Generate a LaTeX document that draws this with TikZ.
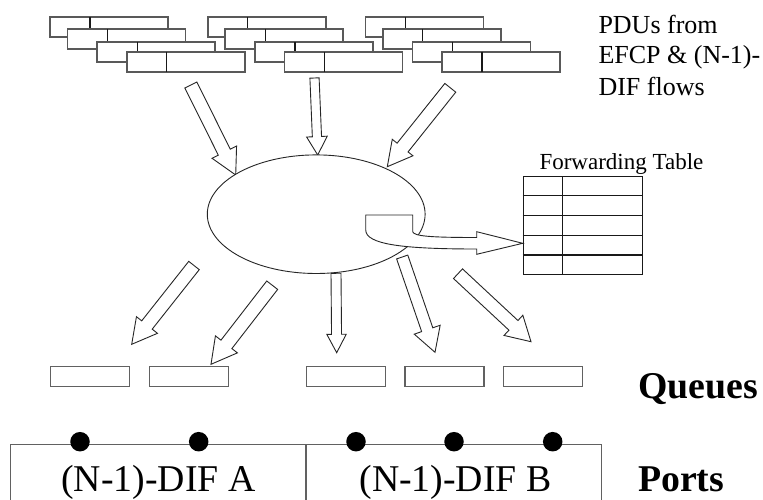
\documentclass[tikz,border=0pt]{standalone}
\usepackage{fontspec}
\setmainfont{Liberation Serif}
\usetikzlibrary{calc,shapes.geometric}

\tikzset{
  pdubox/.style={draw=black!65, line width=1.6pt, fill=white},
  pdusep/.style={draw=black!90, line width=1.3pt},
  blk/.style={draw=black!85, line width=0.9pt, fill=white, line join=miter},
  queue/.style={draw=black!62, line width=1.4pt, fill=white, minimum width=79pt,
    minimum height=20pt, inner sep=0pt, anchor=north west},
  tblline/.style={draw=black!90, line width=1.1pt},
  portbox/.style={draw=black!62, line width=1.4pt},
  port/.style={circle, fill=black, inner sep=0pt, minimum size=19.5pt},
  lbl/.style={inner sep=0pt, anchor=base west},
}

% one PDU: header field + body field
\newcommand\pdu[2]{%
  \draw[pdubox] (#1,#2) rectangle ++(118,20);
  \draw[pdusep] (#1+40,#2) -- ++(0,20);}
% a stack of four overlapping PDUs
\newcommand\pdustack[1]{%
  \pdu{#1}{17.3}\pdu{#1+17.5}{29}\pdu{#1+47.2}{42}\pdu{#1+76.7}{52}}
% hollow block arrow: tail, tip, half shaft width, half head width, head length
\newcommand\blockarrow[5]{%
  \coordinate (ba-neck) at ($(#2)!#5!(#1)$);
  \draw[blk] ($(#1)!#3!90:(#2)$) -- ($(ba-neck)!#3!90:(#2)$)
    -- ($(ba-neck)!#4!90:(#2)$) -- (#2) -- ($(ba-neck)!#4!-90:(#2)$)
    -- ($(ba-neck)!#3!-90:(#2)$) -- ($(#1)!#3!-90:(#2)$) -- cycle;}

\begin{document}
\begin{tikzpicture}[x=1pt, y=-1pt]
\useasboundingbox (0,0) rectangle (763,500);
\fill[white] (0,0) rectangle (763,500);
\clip (0,0) rectangle (763,500);

% incoming PDUs
\pdustack{50}
\pdustack{207.7}
\pdustack{365.3}

% arrow end points
\coordinate (t1) at (190.8,85);   \coordinate (h1) at (235.7,175);
\coordinate (t2) at (314.5,78);   \coordinate (h2) at (317.7,155);
\coordinate (t3) at (450.3,87.8); \coordinate (h3) at (387.3,166.7);
\coordinate (t4) at (194,265.5);  \coordinate (h4) at (131.7,344.3);
\coordinate (t5) at (272.2,285.2);\coordinate (h5) at (211,364.3);
\coordinate (t6) at (336,273.3);  \coordinate (h6) at (336.7,352.7);
\coordinate (t7) at (402.2,257);  \coordinate (h7) at (435,352.3);
\coordinate (t8) at (458,273.7);  \coordinate (h8) at (531,341.7);

% arrows into the relaying function
\blockarrow{t1}{h1}{6.7pt}{13.7pt}{25.5pt}
\blockarrow{t2}{h2}{4.6pt}{10.3pt}{18.4pt}
\blockarrow{t3}{h3}{7pt}{13.2pt}{24.5pt}

% relaying function
\node[draw=black!85, line width=0.9pt, ellipse, fill=white,
      minimum width=217.8pt, minimum height=118.6pt, inner sep=0pt]
      (relay) at (316.2,214.2) {};

% forwarding table
\node[tblline, minimum width=119pt, minimum height=98pt, inner sep=0pt,
      anchor=north west] (fwdtable) at (522.7,176) {};
\draw[tblline] ($(fwdtable.north west)+(39.6,0)$) -- ++(0,98);
\foreach \r in {19.8,39.6,59.3,79}
  \draw[tblline] ($(fwdtable.north west)+(0,\r)$) -- ++(119,0);
\coordinate (fwdtip) at ($(fwdtable.north west)+(0,67.3)$);

% lookup arrow from the relay into the table
\draw[blk] (365.7,215) -- (412.7,215) -- (412.7,231.7)
  .. controls (414,236) and (428,237.5) .. (476.7,237.5)
  -- (476.7,231.7) -- (fwdtip) -- (476.7,254.3) -- (476.7,249)
  .. controls (400,249) and (366,244) .. (365.7,230) -- cycle;

% arrows out to the queues
\blockarrow{t4}{h4}{6.7pt}{13.4pt}{24.6pt}
\blockarrow{t5}{h5}{6.9pt}{13.9pt}{25.2pt}
\blockarrow{t6}{h6}{5pt}{9.7pt}{18.4pt}
\blockarrow{t7}{h7}{5.9pt}{13.7pt}{23.9pt}
\blockarrow{t8}{h8}{6.6pt}{13.8pt}{24pt}

% output queues
\node[queue] (q1) at (50,366) {};
\node[queue] (q2) at (149,366) {};
\node[queue] (q3) at (306,366) {};
\node[queue] (q4) at (404.3,366) {};
\node[queue] (q5) at (502.7,366) {};

% ports onto the (N-1)-DIFs
\draw[portbox] (10.7,503) -- (10.7,444.5) -- (601.7,444.5) -- (601.7,503);
\draw[portbox] (306,444.5) -- (306,503);
\foreach \px/\nm in {80/p1,198.7/p2,356/p3,454/p4,552.7/p5}
  \node[port] (\nm) at (\px,441.7) {};

% labels
\node[lbl, font=\fontsize{26}{31}\selectfont] (pdutxt1) at (598.3,33.3) {PDUs from};
\node[lbl, font=\fontsize{26}{31}\selectfont] (pdutxt2) at (598.3,63.8) {EFCP \& (N-1)-};
\node[lbl, font=\fontsize{26}{31}\selectfont] (pdutxt3) at (598.3,95.5) {DIF flows};
\node[lbl, font=\fontsize{23}{28}\selectfont] (fwdtxt) at (539.3,169.3) {Forwarding Table};
\node[lbl, font=\fontsize{37.8}{45}\selectfont\bfseries] (qtxt) at (638,398.3) {Queues};
\node[lbl, font=\fontsize{37.8}{45}\selectfont\bfseries] (ptxt) at (638,491.7) {Ports};
\node[inner sep=0pt, anchor=base, font=\fontsize{37.8}{45}\selectfont] (difA) at (158.3,491.7) {(N-1)-DIF A};
\node[inner sep=0pt, anchor=base, font=\fontsize{37.8}{45}\selectfont] (difB) at (455.5,491.7) {(N-1)-DIF B};
\end{tikzpicture}
\end{document}
